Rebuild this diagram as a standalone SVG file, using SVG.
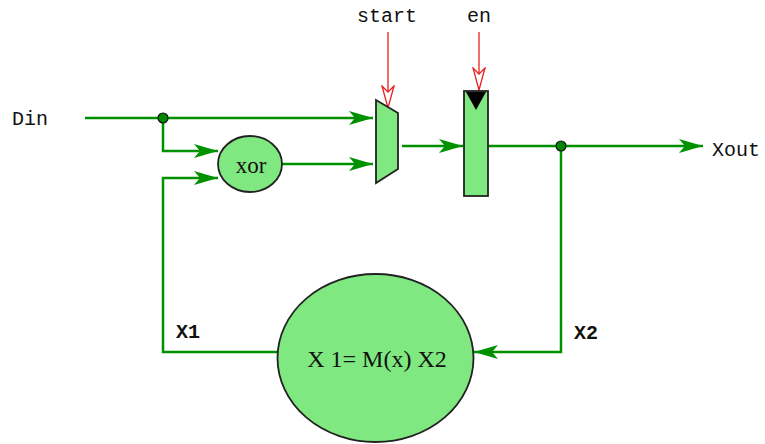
<svg xmlns="http://www.w3.org/2000/svg" width="765" height="444" viewBox="0 0 765 444">
<style>
.w{fill:none;stroke:#009100;stroke-width:2.5}
.r{fill:none;stroke:#e82020;stroke-width:1.3}
.lbl{font-family:"Liberation Mono","DejaVu Sans Mono",monospace;font-size:20px;fill:#111}
.ser{font-family:"Liberation Serif","DejaVu Serif",serif;fill:#111}
.node{fill:#80e880;stroke:#222;stroke-width:1.8}
.dot{fill:#008800;stroke:#111;stroke-width:1.2}
</style>
<defs>
<marker id="ga" markerUnits="userSpaceOnUse" viewBox="0 0 24 14" markerWidth="24" markerHeight="14" refX="24" refY="7" orient="auto">
<path d="M0,0 L24,7 L0,14 L6,7 Z" fill="#009100"/>
</marker>
<marker id="ra" markerUnits="userSpaceOnUse" viewBox="0 0 24 14" markerWidth="24" markerHeight="14" refX="23" refY="7" orient="auto">
<path d="M1,1 L23,7 L1,13 L7,7 Z" fill="#fff" stroke="#e82020" stroke-width="1.3"/>
</marker>
</defs>
<g id="connectors">
<path class="w" d="M85,118 H373" marker-end="url(#ga)"/>
<path class="w" d="M163,118 V151 H218" marker-end="url(#ga)"/>
<path class="w" d="M277,352 H163 V178 H218" marker-end="url(#ga)"/>
<path class="w" d="M282,164 H373" marker-end="url(#ga)"/>
<path class="w" d="M402,146 H463" marker-end="url(#ga)"/>
<path class="w" d="M488,146 H703" marker-end="url(#ga)"/>
<path class="w" d="M561,146 V352 H474" marker-end="url(#ga)"/>
<path class="r" d="M388,32 V108" marker-end="url(#ra)"/>
<path class="r" d="M479,32 V90" marker-end="url(#ra)"/>
<circle class="dot" cx="163" cy="118" r="5"/>
<circle class="dot" cx="561" cy="146" r="5"/>
</g>
<g id="din"><text class="lbl" x="12" y="125">Din</text></g>
<g id="xor">
<ellipse class="node" cx="250" cy="164" rx="32" ry="28"/>
<text class="ser" x="251" y="173" font-size="23" text-anchor="middle">xor</text>
</g>
<g id="mux">
<polygon class="node" points="376,100 398,113 398,169 376,183"/>
<text class="lbl" x="387" y="22" text-anchor="middle">start</text>
</g>
<g id="reg">
<rect class="node" x="464" y="91" width="24" height="105"/>
<polygon points="466,92 486,92 476,110" fill="#000"/>
<text class="lbl" x="479" y="22" text-anchor="middle">en</text>
</g>
<g id="xout"><text class="lbl" x="712" y="156">Xout</text></g>
<g id="mfunc">
<ellipse class="node" cx="375.5" cy="358" rx="98" ry="84"/>
<text class="ser" x="377" y="367" font-size="24" text-anchor="middle">X 1= M(x) X2</text>
</g>
<g id="labels">
<text class="lbl" x="176" y="338" font-weight="bold">X1</text>
<text class="lbl" x="574" y="339" font-weight="bold">X2</text>
</g>
</svg>
